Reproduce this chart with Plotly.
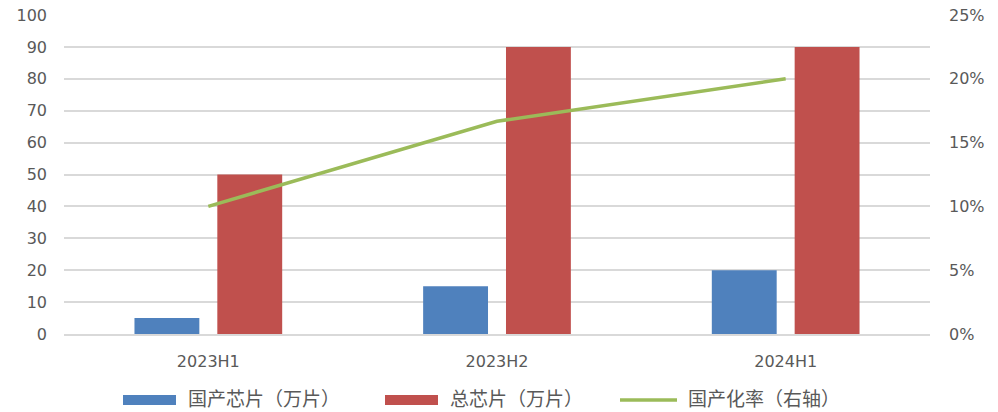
import plotly.graph_objects as go

categories = ["2023H1", "2023H2", "2024H1"]
domestic = [5, 15, 20]
total = [50, 90, 90]
rate = [0.10, 0.1667, 0.20]
names = ["国产芯片（万片）", "总芯片（万片）", "国产化率（右轴）"]
colors = ["#4f81bd", "#c0504d", "#9bbb59"]

L, R, T, B = 64, 68, 15, 78
W, H = 998, 412
pw, ph = W - L - R, H - T - B

fig = go.Figure()
fig.add_trace(go.Bar(x=categories, y=domestic, name=names[0], marker_color=colors[0],
                     marker_line_width=0, showlegend=False))
fig.add_trace(go.Bar(x=categories, y=total, name=names[1], marker_color=colors[1],
                     marker_line_width=0, showlegend=False))
fig.add_trace(go.Scatter(x=categories, y=rate, name=names[2], mode="lines", yaxis="y2",
                         line=dict(color=colors[2], width=3.5), showlegend=False))

font = dict(family="DejaVu Sans, sans-serif", size=16, color="#595959")

def px_x(p):
    return (p - L) / pw

def px_y(p):
    return (T + ph - p) / ph

shapes = []
annotations = []
legend_items = [(123, 176, 186, "rect"), (385, 438, 448, "rect"), (620, 677, 686, "line")]
for (x0, x1, tx, kind), name, c in zip(legend_items, names, colors):
    if kind == "rect":
        shapes.append(dict(type="rect", xref="paper", yref="paper", x0=px_x(x0), x1=px_x(x1),
                           y0=px_y(405), y1=px_y(395), fillcolor=c, line_width=0))
    else:
        shapes.append(dict(type="line", xref="paper", yref="paper", x0=px_x(x0), x1=px_x(x1),
                           y0=px_y(400), y1=px_y(400), line=dict(color=c, width=3.5)))
    annotations.append(dict(text=name, xref="paper", yref="paper", x=px_x(tx), y=px_y(397),
                            xanchor="left", yanchor="middle", showarrow=False,
                            font=dict(family="Noto Sans CJK SC", size=19, color="#595959")))

fig.update_layout(
    width=W, height=H, margin=dict(l=L, r=R, t=T, b=B, autoexpand=False),
    paper_bgcolor="white", plot_bgcolor="white",
    barmode="group", bargap=0.426, bargroupgap=0.217,
    font=font, showlegend=False,
    xaxis=dict(showgrid=False, showline=True, linecolor="#d9d9d9", linewidth=1.5,
               ticks="", tickfont=font, ticklabelstandoff=12, automargin=False),
    yaxis=dict(range=[0, 100], dtick=10, showgrid=True, gridcolor="#d9d9d9", gridwidth=1.5,
               zeroline=False, ticks="", ticklabelstandoff=16, tickfont=font, automargin=False),
    yaxis2=dict(range=[0, 0.25], dtick=0.05, tickformat=".0%", overlaying="y", side="right",
                showgrid=False, zeroline=False, ticks="", ticklabelstandoff=18, tickfont=font,
                automargin=False),
    shapes=shapes, annotations=annotations,
)
fig.write_html("out.html")
